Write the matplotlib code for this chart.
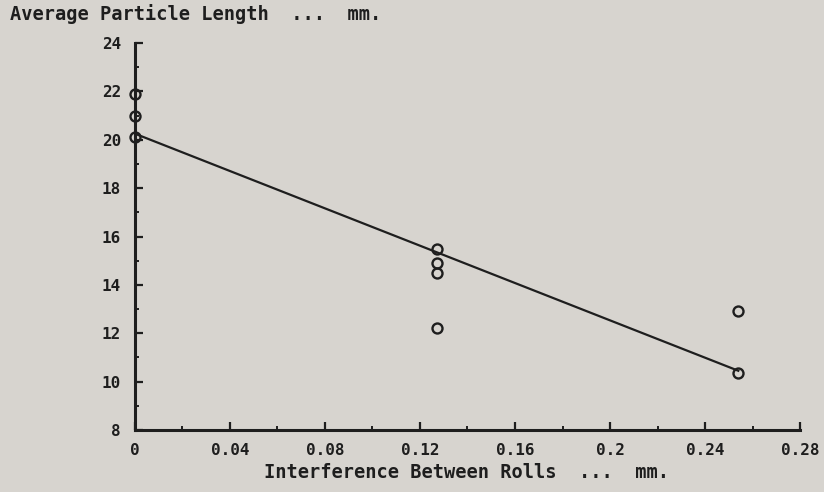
import matplotlib.pyplot as plt
from matplotlib.ticker import MultipleLocator

# roll interference (mm) vs. average particle length (mm)
interference = [0, 0, 0, 0.127, 0.127, 0.127, 0.127, 0.254, 0.254]
particle_len = [21.9, 21.0, 20.1, 15.5, 14.9, 14.5, 12.2, 12.9, 10.35]

# fitted straight line, end points
fit_x = [0, 0.254]
fit_y = [20.25, 10.45]

x_ticks = [0, 0.04, 0.08, 0.12, 0.16, 0.2, 0.24, 0.28]
x_tick_labels = ['0', '0.04', '0.08', '0.12', '0.16', '0.2', '0.24', '0.28']
y_ticks = [8, 10, 12, 14, 16, 18, 20, 22, 24]

bg = '#d7d4cf'
ink = '#1e1e1e'
mono = 'DejaVu Sans Mono'

fig = plt.figure(figsize=(8.24, 4.92), dpi=100, facecolor=bg)
ax = fig.add_axes([0.1638, 0.126, 0.8071, 0.7866], facecolor=bg)

ax.plot(fit_x, fit_y, color=ink, lw=1.6, zorder=2)
ax.plot(interference, particle_len, 'o', ms=7.2, mfc='none', mec=ink,
        mew=1.7, clip_on=False, zorder=3)

ax.set_xlim(0, 0.28)
ax.set_ylim(8, 24)
ax.set_xticks(x_ticks)
ax.set_xticklabels(x_tick_labels)
ax.set_yticks(y_ticks)
ax.xaxis.set_minor_locator(MultipleLocator(0.02))
ax.yaxis.set_minor_locator(MultipleLocator(1))

for s in ['top', 'right']:
    ax.spines[s].set_visible(False)
for s in ['left', 'bottom']:
    ax.spines[s].set_linewidth(2.2)
    ax.spines[s].set_color(ink)

ax.tick_params(which='major', direction='in', length=6, width=1.6,
               color=ink, labelcolor=ink)
ax.tick_params(which='minor', direction='in', length=3, width=1.4, color=ink)
ax.tick_params(axis='x', which='major', pad=9)
ax.tick_params(axis='y', which='major', pad=10)
for lab in ax.get_xticklabels() + ax.get_yticklabels():
    lab.set_family(mono)
    lab.set_fontweight('bold')
    lab.set_fontsize(11.5)

fig.text(0.012, 0.972, 'Average Particle Length  ...  mm.', family=mono,
         fontweight='bold', fontsize=13.4, color=ink, ha='left', va='center')
fig.text(0.566, 0.040, 'Interference Between Rolls  ...  mm.', family=mono,
         fontweight='bold', fontsize=13.4, color=ink, ha='center', va='center')

fig.savefig('out.png', dpi=100, facecolor=bg)
